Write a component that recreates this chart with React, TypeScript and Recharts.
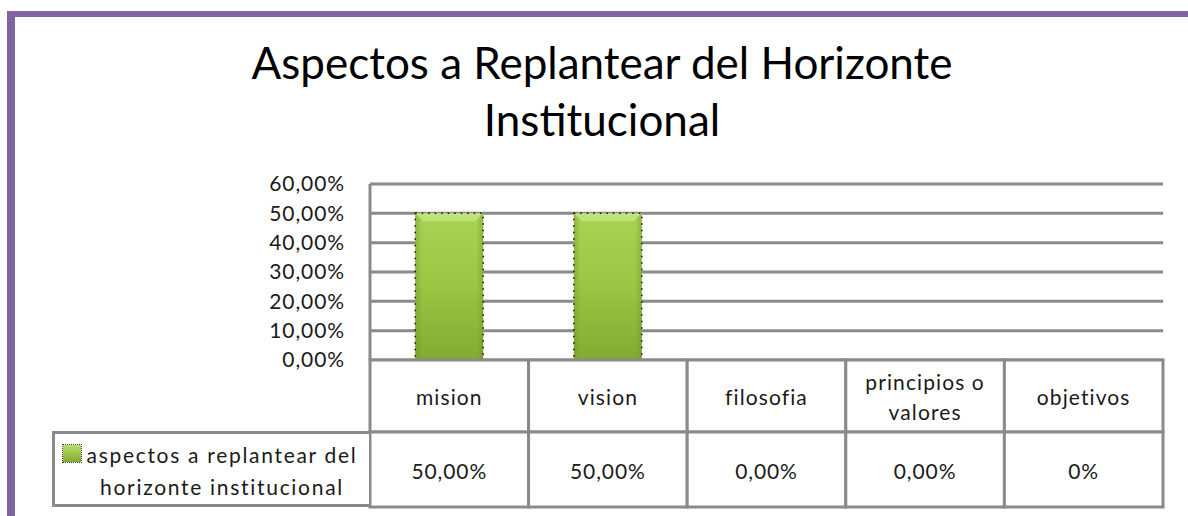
import React from 'react';
import { BarChart, Bar, XAxis, YAxis, CartesianGrid, Legend } from 'recharts';

const categories = ['mision', 'vision', 'filosofia', 'principios o valores', 'objetivos'];
const seriesValues = [0.5, 0.5, 0, 0, 0];
const valueLabels = ['50,00%', '50,00%', '0,00%', '0,00%', '0%'];
const yTicks = [0, 0.1, 0.2, 0.3, 0.4, 0.5, 0.6];
const seriesName = 'aspectos a replantear del horizonte institucional';
const titleLines = ['Aspectos a Replantear del Horizonte', 'Institucional'];

const data = categories.map((c, i) => ({ name: c, value: seriesValues[i], label: valueLabels[i] }));

const W = 1188;
const H = 516;
const M = { top: 184, right: 25, left: 0, bottom: 6 };
const YW = 370;
const PLOT_W = W - M.right - YW;
const BAND = PLOT_W / categories.length;
const ROW1 = 72;
const ROW2 = 75;
const GRID = '#8a8a8a';
const FONT = 'Lato, "Open Sans", sans-serif';
const TXT = '#1a1a1a';
const FS = 21;

const fmt = (v: number) => (v * 100).toFixed(2).replace('.', ',') + '%';

function wrap(s: string, max: number): string[] {
  const words = s.split(' ');
  const lines: string[] = [];
  let cur = '';
  for (const w of words) {
    const t = cur ? cur + ' ' + w : w;
    if (t.length > max && cur) {
      lines.push(cur);
      cur = w;
    } else cur = t;
  }
  if (cur) lines.push(cur);
  return lines;
}

const TableTick = (props: any) => {
  const { x, y, payload } = props;
  const i = payload.index;
  const lines = wrap(String(payload.value), 13);
  const x0 = x - BAND / 2;
  const c1 = y + ROW1 / 2;
  return (
    <g>
      <rect x={x0} y={y} width={BAND} height={ROW1} fill="#fff" stroke={GRID} strokeWidth={3} />
      <rect x={x0} y={y + ROW1} width={BAND} height={ROW2} fill="#fff" stroke={GRID} strokeWidth={3} />
      {lines.map((l, k) => (
        <text
          key={k}
          x={x}
          y={c1 + (k - (lines.length - 1) / 2) * 30}
          textAnchor="middle"
          dominantBaseline="central"
          fontFamily={FONT}
          fontSize={FS}
          fill={TXT}
          letterSpacing={1.1}
        >
          {l}
        </text>
      ))}
      <text
        x={x}
        y={y + ROW1 + ROW2 / 2 + 1}
        textAnchor="middle"
        dominantBaseline="central"
        fontFamily={FONT}
        fontSize={FS}
        fill={TXT}
        letterSpacing={0.9}
      >
        {data[i].label}
      </text>
    </g>
  );
};

const BevelBar = (props: any) => {
  const { x, y, width, height } = props;
  if (!height || height <= 0) return null;
  const b = 8;
  return (
    <g>
      <rect x={x} y={y} width={width} height={height} fill="url(#barBody)" />
      <rect x={x} y={y} width={width} height={height} fill="url(#barSide)" />
      <polygon
        points={`${x},${y} ${x + width},${y} ${x + width - b},${y + b} ${x + b},${y + b}`}
        fill="#c4e67f"
        opacity={0.85}
      />
      <rect
        x={x}
        y={y}
        width={width}
        height={height}
        fill="none"
        stroke="#111"
        strokeWidth={1.5}
        strokeDasharray="1.5 5"
      />
    </g>
  );
};

const LegendCell = (props: any) => {
  return (
    <div
      style={{
        position: 'absolute',
        left: 0,
        top: 0,
        width: 317,
        height: 76,
        boxSizing: 'border-box',
        borderLeft: `3px solid ${GRID}`,
        borderTop: `3px solid ${GRID}`,
        borderBottom: `3px solid ${GRID}`,
        background: '#fff',
        fontFamily: FONT,
        fontSize: FS,
        color: TXT,
        letterSpacing: 1.7,
        textAlign: 'left',
      }}
    >
      <div
        style={{
          position: 'absolute',
          left: 8,
          top: 11,
          width: 18,
          height: 17,
          background: 'linear-gradient(#b9de66, #84ab33)',
          outline: '1px dotted #333',
        }}
      />
      <div
        style={{
          position: 'absolute',
          left: 22,
          top: 5,
          width: 290,
          textAlign: 'center',
          lineHeight: '32px',
          whiteSpace: 'nowrap',
        }}
      >
        {wrap(seriesName, 26).map((l, k) => (
          <div key={k}>{l}</div>
        ))}
      </div>
    </div>
  );
};

export default function App() {
  return (
    <div style={{ position: 'absolute', left: 0, top: 0, width: W, height: H, background: '#fff' }}>
      <div
        style={{
          position: 'absolute',
          left: 7,
          top: 11,
          width: W,
          height: H,
          borderLeft: '8px solid #8064a2',
          borderTop: '6px solid #8064a2',
          boxSizing: 'border-box',
        }}
      />
      <div
        style={{
          position: 'absolute',
          left: 0,
          top: 34,
          width: W,
          textAlign: 'center',
          fontFamily: FONT,
          fontSize: 44,
          lineHeight: '57px',
          color: '#000',
          paddingLeft: 16,
          boxSizing: 'border-box',
        }}
      >
        {titleLines.map((l, k) => (
          <div key={k}>{l}</div>
        ))}
      </div>
      <div style={{ position: 'absolute', left: 0, top: 0 }}>
        <BarChart width={W} height={H} data={data} margin={M} barCategoryGap="28.5%">
          <defs>
            <linearGradient id="barBody" x1="0" y1="0" x2="0" y2="1">
              <stop offset="0" stopColor="#a9d353" />
              <stop offset="0.5" stopColor="#9bc542" />
              <stop offset="1" stopColor="#83aa31" />
            </linearGradient>
            <linearGradient id="barSide" x1="0" y1="0" x2="1" y2="0">
              <stop offset="0" stopColor="#6f9128" stopOpacity={0.45} />
              <stop offset="0.1" stopColor="#6f9128" stopOpacity={0} />
              <stop offset="0.9" stopColor="#6f9128" stopOpacity={0} />
              <stop offset="1" stopColor="#6f9128" stopOpacity={0.45} />
            </linearGradient>
          </defs>
          <CartesianGrid vertical={false} stroke={GRID} strokeWidth={3} />
          <YAxis
            width={YW}
            domain={[0, 0.6]}
            ticks={yTicks}
            tickFormatter={fmt}
            axisLine={{ stroke: GRID, strokeWidth: 3 }}
            tickLine={false}
            tickSize={0}
            tickMargin={25}
            tick={{ fontFamily: FONT, fontSize: FS, fill: TXT, letterSpacing: 0.9 }}
            interval={0}
          />
          <XAxis
            dataKey="name"
            height={H - M.top - M.bottom - 176}
            axisLine={false}
            tickLine={false}
            tickSize={0}
            tickMargin={0}
            interval={0}
            tick={<TableTick />}
          />
          <Legend
            content={<LegendCell />}
            wrapperStyle={{ position: 'absolute', left: 52, top: 431, width: 0, height: 0, overflow: 'visible' }}
          />
          <Bar dataKey="value" name={seriesName} shape={<BevelBar />} isAnimationActive={false} />
        </BarChart>
      </div>
    </div>
  );
}
